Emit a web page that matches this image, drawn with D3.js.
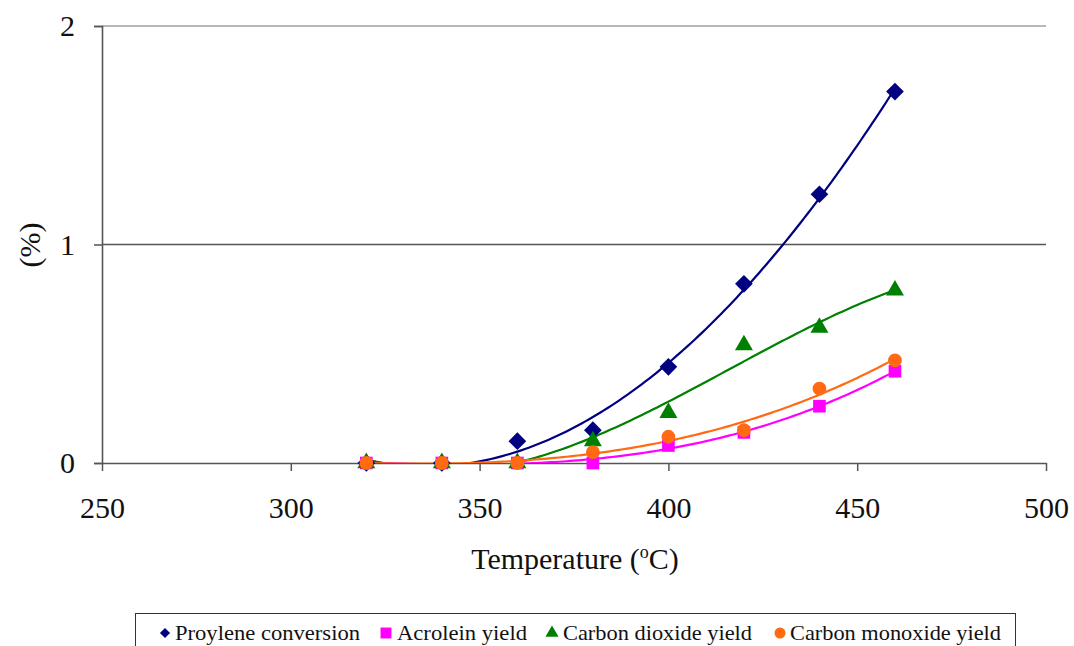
<!DOCTYPE html>
<html>
<head>
<meta charset="utf-8">
<script src="https://cdn.jsdelivr.net/npm/d3@7/dist/d3.min.js"></script>
<style>
  html, body { margin: 0; padding: 0; background: #fff; }
  svg { display: block; font-family: "Liberation Serif", "Times New Roman", serif; }
</style>
</head>
<body>
<svg id="chart" width="1074" height="646"></svg>
<script>
// Reaction temperatures (°C)
const temperatures = [320, 340, 360, 380, 400, 420, 440, 460];

// Series values (%)
const propyleneConversion = [0, 0, 0.10, 0.15, 0.44, 0.82, 1.23, 1.70];
const acroleinYield       = [0, 0, 0, 0, 0.08, 0.14, 0.26, 0.42];
const co2Yield            = [0, 0, 0, 0.10, 0.23, 0.54, 0.62, 0.79];
const coYield             = [0, 0, 0, 0.05, 0.12, 0.15, 0.34, 0.47];

const seriesNames  = ["Proylene conversion", "Acrolein yield", "Carbon dioxide yield", "Carbon monoxide yield"];
const seriesColors = ["#000080", "#ff00ff", "#008000", "#ff6a13"];
const seriesShapes = ["diamond", "square", "triangle", "circle"];

const xTicks = [250, 300, 350, 400, 450, 500];
const yTicks = [0, 1, 2];

const series = [propyleneConversion, acroleinYield, co2Yield, coYield].map((vals, i) => ({
  name: seriesNames[i], color: seriesColors[i], shape: seriesShapes[i],
  points: temperatures.map((t, j) => ({ x: t, y: vals[j] }))
}));

// Least-squares polynomial trendline
function polyFit(pts, order) {
  const n = order + 1;
  const x0 = 390; // centre for numerical stability
  const A = Array.from({ length: n }, () => new Array(n + 1).fill(0));
  pts.forEach(p => {
    const u = (p.x - x0) / 100;
    for (let r = 0; r < n; r++) {
      for (let c = 0; c < n; c++) A[r][c] += Math.pow(u, r + c);
      A[r][n] += p.y * Math.pow(u, r);
    }
  });
  for (let i = 0; i < n; i++) {
    let m = i;
    for (let k = i + 1; k < n; k++) if (Math.abs(A[k][i]) > Math.abs(A[m][i])) m = k;
    [A[i], A[m]] = [A[m], A[i]];
    for (let k = i + 1; k < n; k++) {
      const f = A[k][i] / A[i][i];
      for (let c = i; c <= n; c++) A[k][c] -= f * A[i][c];
    }
  }
  const coef = new Array(n).fill(0);
  for (let i = n - 1; i >= 0; i--) {
    let s = A[i][n];
    for (let c = i + 1; c < n; c++) s -= A[i][c] * coef[c];
    coef[i] = s / A[i][i];
  }
  return x => { const u = (x - x0) / 100; return coef.reduce((s, c, i) => s + c * Math.pow(u, i), 0); };
}

const svg = d3.select("#chart");
const margin = { left: 102, right: 1046, top: 26, bottom: 463 };

const x = d3.scaleLinear().domain([250, 500]).range([margin.left, margin.right]);
const y = d3.scaleLinear().domain([0, 2]).range([margin.bottom, margin.top]);

// Horizontal gridlines
svg.append("g").selectAll("line").data(yTicks.filter(d => d > 0)).join("line")
  .attr("x1", margin.left).attr("x2", margin.right)
  .attr("y1", d => y(d)).attr("y2", d => y(d))
  .attr("stroke", d => d === 2 ? "#a0a0a0" : "#555").attr("stroke-width", 1.5);

// Y axis
const yAxis = svg.append("g").attr("transform", `translate(${margin.left},0)`)
  .call(d3.axisLeft(y).tickValues(yTicks).tickSize(8).tickPadding(19).tickFormat(d3.format("d")));
yAxis.select(".domain").attr("stroke", "#555").attr("stroke-width", 1.6);
yAxis.selectAll(".tick line").attr("stroke", "#555").attr("stroke-width", 1.5);
yAxis.selectAll(".tick text").attr("font-size", 30).attr("fill", "#111")
  .attr("font-family", "Liberation Serif, serif");

// X axis
const xAxis = svg.append("g").attr("transform", `translate(0,${margin.bottom})`)
  .call(d3.axisBottom(x).tickValues(xTicks).tickSize(8).tickSizeOuter(0).tickPadding(31));
xAxis.select(".domain").attr("stroke", "#555").attr("stroke-width", 1.6);
xAxis.selectAll(".tick line").attr("stroke", "#555").attr("stroke-width", 1.5);
xAxis.selectAll(".tick text").attr("font-size", 30).attr("fill", "#111")
  .attr("font-family", "Liberation Serif, serif").attr("dy", 0).attr("y", 55);

// Axis titles
const xt = svg.append("text").attr("x", 575).attr("y", 569).attr("text-anchor", "middle")
  .attr("font-size", 30).attr("fill", "#111");
xt.append("tspan").text("Temperature (");
xt.append("tspan").attr("font-size", 18).attr("dy", -11).text("o");
xt.append("tspan").attr("dy", 11).text("C)");

svg.append("text").attr("transform", "translate(40,245) rotate(-90)")
  .attr("text-anchor", "middle").attr("font-size", 30).attr("fill", "#111").text("(%)");

// Clip region for trendlines (plot area, y >= 0)
svg.append("clipPath").attr("id", "plotClip").append("rect")
  .attr("x", margin.left).attr("y", margin.top)
  .attr("width", margin.right - margin.left).attr("height", margin.bottom - margin.top);

// Trendlines
const line = d3.line().x(d => x(d.x)).y(d => y(d.y));
series.forEach(s => {
  const f = polyFit(s.points, 3);
  const pts = d3.range(320, 460.5, 1).map(t => ({ x: t, y: f(t) }));
  svg.append("path").datum(pts).attr("d", line)
    .attr("fill", "none").attr("stroke", s.color).attr("stroke-width", 2.2)
    .attr("clip-path", "url(#plotClip)");
});

// Marker shapes
const symbolFor = {
  diamond: d3.symbol().type(d3.symbolDiamond2).size(200),
  square: d3.symbol().type(d3.symbolSquare).size(160),
  triangle: d3.symbol().type(d3.symbolTriangle).size(140),
  circle: d3.symbol().type(d3.symbolCircle).size(150)
};

series.forEach(s => {
  svg.append("g").selectAll("path").data(s.points).join("path")
    .attr("transform", d => `translate(${x(d.x)},${y(d.y)})`)
    .attr("d", symbolFor[s.shape]())
    .attr("fill", s.color);
});

// Legend
const legend = svg.append("g");
legend.append("rect").attr("x", 135.5).attr("y", 613.5).attr("width", 880).attr("height", 40)
  .attr("fill", "#fff").attr("stroke", "#333").attr("stroke-width", 1);

const legendItems = [
  { sx: 165, tx: 175, w: 185 },
  { sx: 386, tx: 397, w: 130 },
  { sx: 552, tx: 563, w: 189 },
  { sx: 780, tx: 790, w: 211 }
];
const legendSym = {
  diamond: d3.symbol().type(d3.symbolDiamond2).size(65),
  square: d3.symbol().type(d3.symbolSquare).size(120),
  triangle: d3.symbol().type(d3.symbolTriangle).size(75),
  circle: d3.symbol().type(d3.symbolCircle).size(95)
};
series.forEach((s, i) => {
  legend.append("path").attr("transform", `translate(${legendItems[i].sx},633)`)
    .attr("d", legendSym[s.shape]()).attr("fill", s.color);
  legend.append("text").attr("x", legendItems[i].tx).attr("y", 640)
    .attr("font-size", 22).attr("fill", "#111")
    .attr("textLength", legendItems[i].w).attr("lengthAdjust", "spacingAndGlyphs")
    .text(s.name);
});
</script>
</body>
</html>
